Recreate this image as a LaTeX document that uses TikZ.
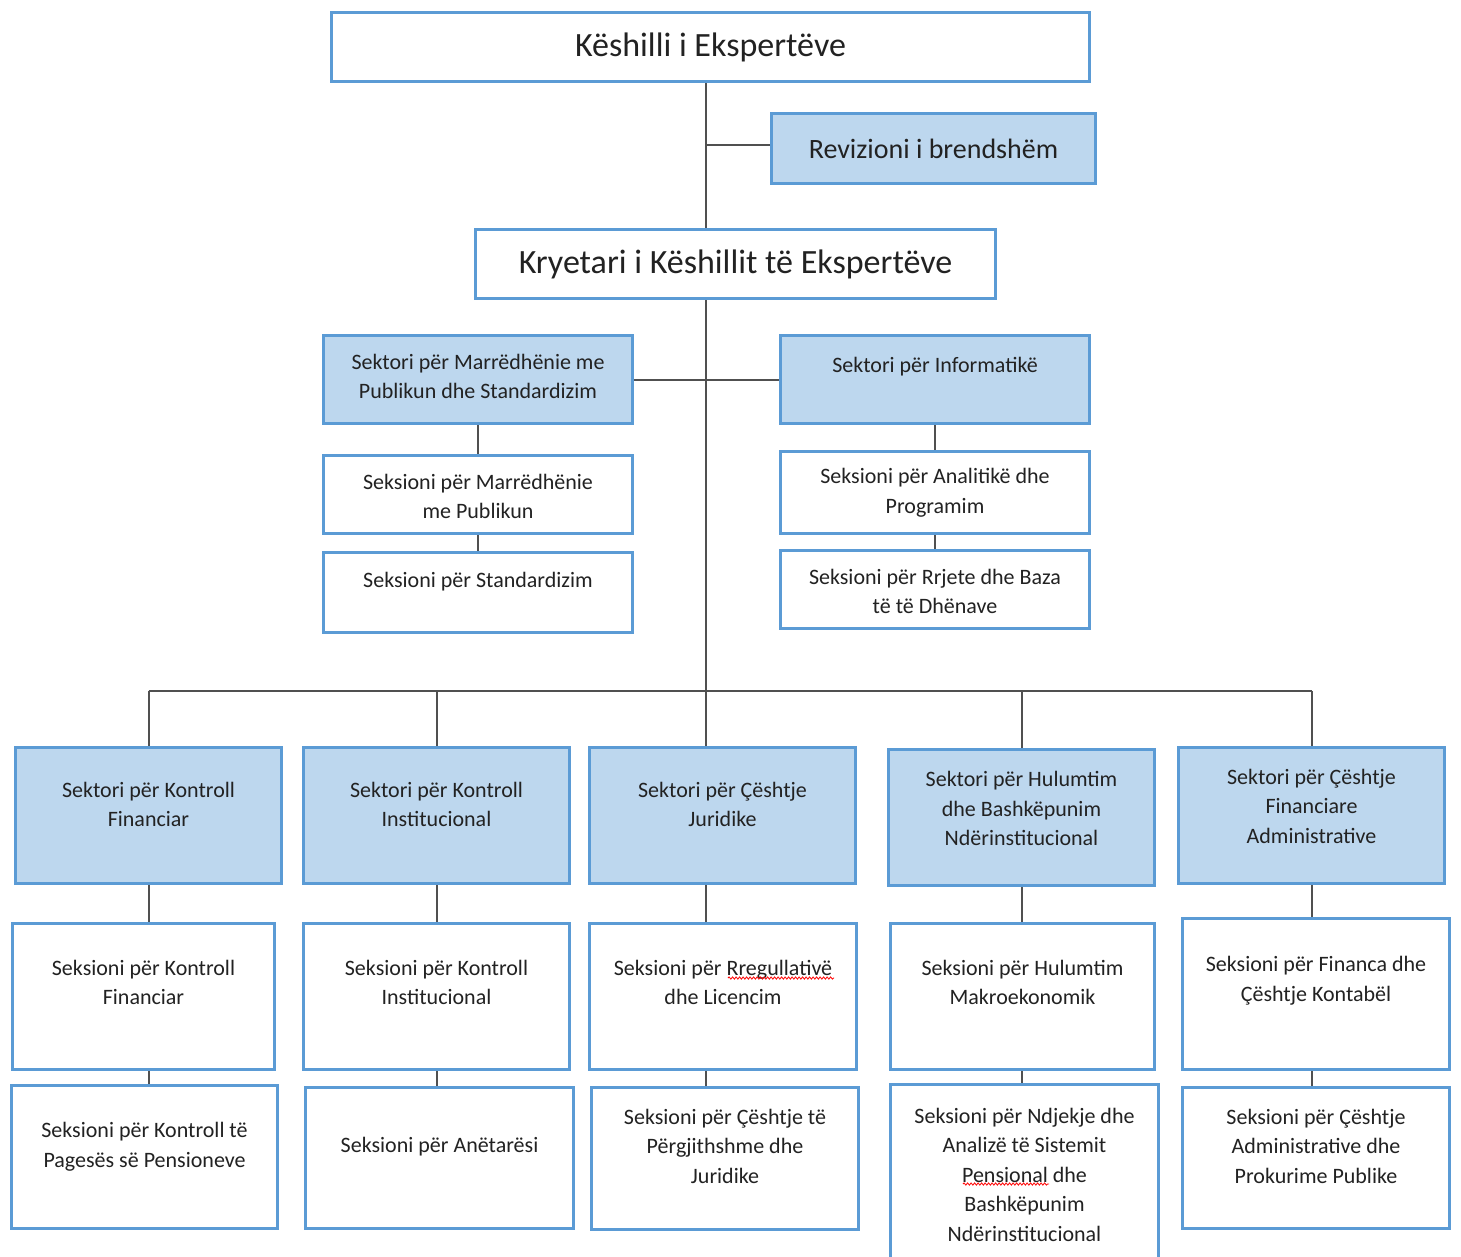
\documentclass[tikz,border=0pt]{standalone}
\usepackage{fontspec}
\setmainfont{Carlito}
\usetikzlibrary{decorations.pathmorphing}
\definecolor{boxblue}{HTML}{5B9BD5}
\definecolor{boxfill}{HTML}{BDD7EE}
\definecolor{linegray}{HTML}{505050}
\definecolor{textgray}{HTML}{222222}
\begin{document}
\begin{tikzpicture}[x=1pt, y=-1pt,
	box/.style={draw=boxblue, line width=3pt, fill=white, inner sep=0pt, text=textgray},
	sect/.style={box, fill=boxfill},
	txt/.style={align=center, text=textgray, inner sep=0pt, font=\fontsize{22}{29.5}\selectfont},
	conn/.style={draw=linegray, line width=2pt},
	squig/.style={draw=red, line width=0.8pt, decorate, decoration={snake, amplitude=1.1pt, segment length=3.5pt}}]
	\useasboundingbox (0,0) rectangle (1461,1256);
	% Top
	\node[box, minimum width=758pt, minimum height=69pt, font=\fontsize{34}{40}\selectfont] (kesh) at (710.5,47) {Këshilli i Ekspertëve};
	\node[sect, minimum width=324pt, minimum height=70pt, font=\fontsize{28}{34}\selectfont] (rev) at (933.5,148.5) {Revizioni i brendshëm};
	\node[box, minimum width=520pt, minimum height=69pt, font=\fontsize{34}{40}\selectfont] (kry) at (735.5,264) {Kryetari i Këshillit të Ekspertëve};
	% Middle
	\node[sect, minimum width=309pt, minimum height=88pt] (smar) at (478,379.5) {};
	\node[txt] (smar-t) at ([yshift=3pt]smar.center) {Sektori për Marrëdhënie me\\Publikun dhe Standardizim};
	\node[box, minimum width=309pt, minimum height=78pt] (ks1) at (478,494.5) {};
	\node[txt] (ks1-t) at ([yshift=-2pt]ks1.center) {Seksioni për Marrëdhënie\\me Publikun};
	\node[box, minimum width=309pt, minimum height=80pt] (ks2) at (478,592.5) {};
	\node[txt] (ks2-t) at ([yshift=10.5pt]ks2.center) {Seksioni për Standardizim};
	\node[sect, minimum width=309pt, minimum height=88pt] (sinf) at (935,379.5) {};
	\node[txt] (sinf-t) at ([yshift=12.5pt]sinf.center) {Sektori për Informatikë};
	\node[box, minimum width=309pt, minimum height=82pt] (ki1) at (935,492.5) {};
	\node[txt] (ki1-t) at (ki1.center) {Seksioni për Analitikë dhe\\Programim};
	\node[box, minimum width=309pt, minimum height=78pt] (ki2) at (935,589.5) {};
	\node[txt] (ki2-t) at ([yshift=-2pt]ki2.center) {Seksioni për Rrjete dhe Baza\\të të Dhënave};
	% Sectors
	\node[sect, minimum width=266pt, minimum height=136pt] (s1) at (148.5,815.5) {};
	\node[txt] (s1-t) at ([yshift=11pt]s1.center) {Sektori për Kontroll\\Financiar};
	\node[sect, minimum width=266pt, minimum height=136pt] (s2) at (436.5,815.5) {};
	\node[txt] (s2-t) at ([yshift=11pt]s2.center) {Sektori për Kontroll\\Institucional};
	\node[sect, minimum width=266pt, minimum height=136pt] (s3) at (722.5,815.5) {};
	\node[txt] (s3-t) at ([yshift=11pt]s3.center) {Sektori për Çështje\\Juridike};
	\node[sect, minimum width=266pt, minimum height=136pt] (s4) at (1021.5,817.5) {};
	\node[txt] (s4-t) at ([yshift=9pt]s4.center) {Sektori për Hulumtim\\dhe Bashkëpunim\\Ndërinstitucional};
	\node[sect, minimum width=266pt, minimum height=136pt] (s5) at (1311.5,815.5) {};
	\node[txt] (s5-t) at ([yshift=9.5pt]s5.center) {Sektori për Çështje\\Financiare\\Administrative};
	% Sections, first row
	\node[box, minimum width=262pt, minimum height=146pt] (a1) at (143.5,996.5) {};
	\node[txt] (a1-t) at ([yshift=14pt]a1.center) {Seksioni për Kontroll\\Financiar};
	\node[box, minimum width=266pt, minimum height=146pt] (a2) at (436.5,996.5) {};
	\node[txt] (a2-t) at ([yshift=14pt]a2.center) {Seksioni për Kontroll\\Institucional};
	\node[box, minimum width=267pt, minimum height=146pt] (a3) at (723,996.5) {};
	\node[txt] (a3-t) at ([yshift=14pt]a3.center) {Seksioni për Rregullativë\\dhe Licencim};
	\node[box, minimum width=264pt, minimum height=146pt] (a4) at (1022.5,996.5) {};
	\node[txt] (a4-t) at ([yshift=14pt]a4.center) {Seksioni për Hulumtim\\Makroekonomik};
	\node[box, minimum width=267pt, minimum height=151pt] (a5) at (1316,994) {};
	\node[txt] (a5-t) at ([yshift=13.5pt]a5.center) {Seksioni për Financa dhe\\Çështje Kontabël};
	% Sections, second row
	\node[box, minimum width=266pt, minimum height=143pt] (b1) at (144.5,1157) {};
	\node[txt] (b1-t) at ([yshift=10.5pt]b1.center) {Seksioni për Kontroll të\\Pagesës së Pensioneve};
	\node[box, minimum width=268pt, minimum height=141pt] (b2) at (439.5,1158) {};
	\node[txt] (b2-t) at ([yshift=11pt]b2.center) {Seksioni për Anëtarësi};
	\node[box, minimum width=267pt, minimum height=142pt] (b3) at (725,1158.5) {};
	\node[txt] (b3-t) at ([yshift=12.5pt]b3.center) {Seksioni për Çështje të\\Përgjithshme dhe\\Juridike};
	\node[box, minimum width=268pt, minimum height=176pt] (b4) at (1024.5,1172.5) {};
	\node[txt] (b4-t) at ([yshift=-2pt]b4.center) {Seksioni për Ndjekje dhe\\Analizë të Sistemit\\Pensional dhe\\Bashkëpunim\\Ndërinstitucional};
	\node[box, minimum width=267pt, minimum height=141pt] (b5) at (1316,1158) {};
	\node[txt] (b5-t) at ([yshift=12pt]b5.center) {Seksioni për Çështje\\Administrative dhe\\Prokurime Publike};
	% Lines
	\coordinate (tr) at (705.5,145);
	\coordinate (bus) at (0,691);
	\draw[conn] (kesh.south -| tr) -- (kry.north -| tr);
	\draw[conn] (tr) -- (tr -| rev.west);
	\draw[conn] (kry.south -| tr) -- (s3.north -| tr);
	\draw[conn] (smar.east) -- (sinf.west);
	\draw[conn] (smar.south) -- (ks1.north);
	\draw[conn] (ks1.south) -- (ks2.north);
	\draw[conn] (sinf.south) -- (ki1.north);
	\draw[conn] (ki1.south) -- (ki2.north);
	\draw[conn] (s1.north |- bus) -- (s5.north |- bus);
	\foreach \s in {s1,s2,s4,s5}
		\draw[conn] (\s.north |- bus) -- (\s.north);
	\foreach \s/\a/\b in {s1/a1/b1, s2/a2/b2, s4/a4/b4, s5/a5/b5} {
		\draw[conn] (\s.south) -- (\s.south |- \a.north);
		\draw[conn] (\s.south |- \a.south) -- (\s.south |- \b.north);
	}
	\draw[conn] (s3.south -| tr) -- (a3.north -| tr);
	\draw[conn] (a3.south -| tr) -- (b3.north -| tr);
	% Spelling marks
	\draw[squig] (728,978) -- (834,978);
	\draw[squig] (963,1184) -- (1049,1184);
\end{tikzpicture}
\end{document}
